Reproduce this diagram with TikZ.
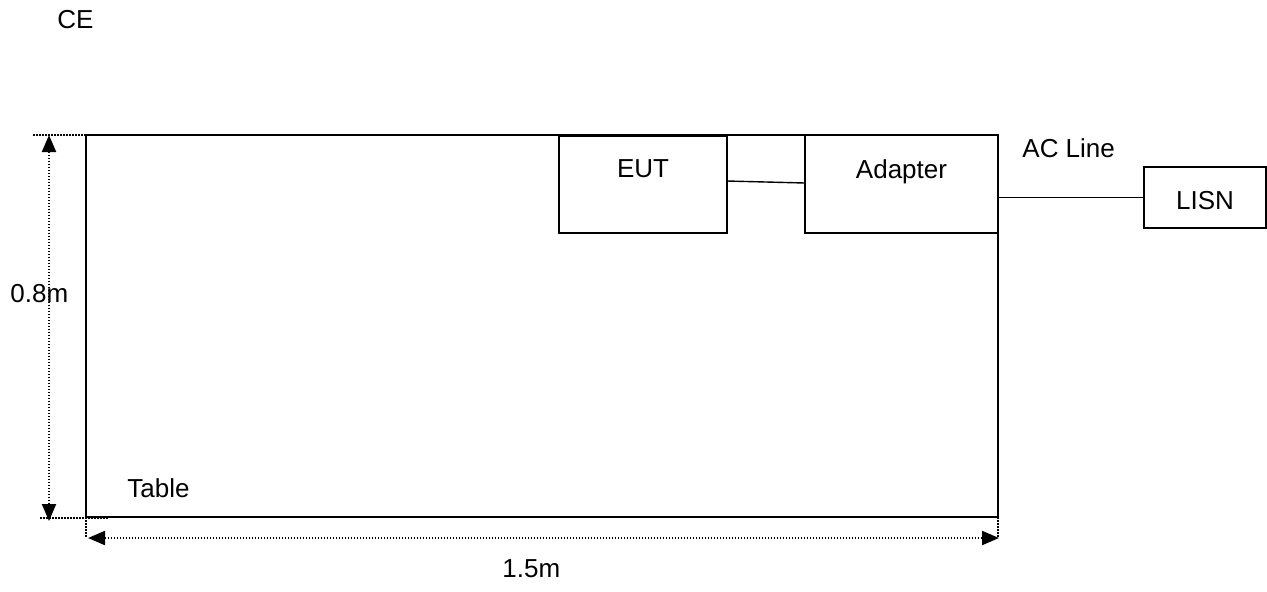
\documentclass[tikz,border=0pt]{standalone}
\usepackage{fontspec}
\setmainfont{Liberation Sans}
\usetikzlibrary{positioning,arrows.meta}

\begin{document}
\begin{tikzpicture}[
    x=0.5pt, y=-0.5pt,
    >={Triangle[length=8.5pt,width=7pt]},
    txt/.style={font=\fontsize{13}{15}\selectfont, inner sep=0pt},
    box/.style={draw, line width=1pt, inner sep=0pt, outer sep=0pt,
                font=\fontsize{13}{15}\selectfont},
    dim/.style={<->, line width=1pt, dash pattern=on 0.75pt off 0.75pt},
    ext/.style={line width=1pt, dash pattern=on 0.75pt off 0.75pt},
    wire/.style={line width=0.7pt},
]
\useasboundingbox (0,0) rectangle (1267,591);

% Table
\node[draw, line width=1pt, inner sep=0pt, outer sep=0pt, anchor=north west,
      minimum width=456pt, minimum height=191pt] (table) at (86,135) {};
\node[txt, anchor=base west] (tablelbl) at (127,497) {Table};
\node[txt, anchor=base west] (title) at (57,28) {CE};

% Boxes on the table
\node[box, anchor=north east, minimum width=96.5pt,
      text height=21.5pt, text depth=27.5pt] (adapter) at (table.north east) {Adapter};
\node[box, left=39pt of adapter, minimum width=84pt,
      text height=21pt, text depth=27.5pt] (eut) {EUT};
\node[box, right=73pt of adapter, yshift=-6.75pt, minimum width=61pt,
      text height=21pt, text depth=9.5pt] (lisn) {LISN};

% Cables
\draw[wire] ([yshift=1.5pt]eut.east) -- ([yshift=0.5pt]adapter.west);
\draw[wire] (adapter.east |- lisn.west) -- (lisn.west);
\node[txt, anchor=base west] (acline) at (1022,157) {AC Line};

% Height of the table
\coordinate (htop) at (49,135);
\coordinate (hbot) at (49,521);
\draw[ext] (33,135) -- (100,135);
\draw[ext] (40,518) -- (108,518);
\draw[dim] (htop) -- (hbot);
\node[txt, anchor=base west] (height) at (10,302) {0.8m};

% Width of the table
\coordinate (wleft) at (88,538);
\coordinate (wright) at (999,538);
\draw[ext] (table.south west) -- (table.south west |- wleft);
\draw[ext] (table.south east) -- (table.south east |- wright);
\draw[dim] (wleft) -- (wright);
\node[txt, anchor=base west] (width) at (502,577) {1.5m};

\end{tikzpicture}
\end{document}
